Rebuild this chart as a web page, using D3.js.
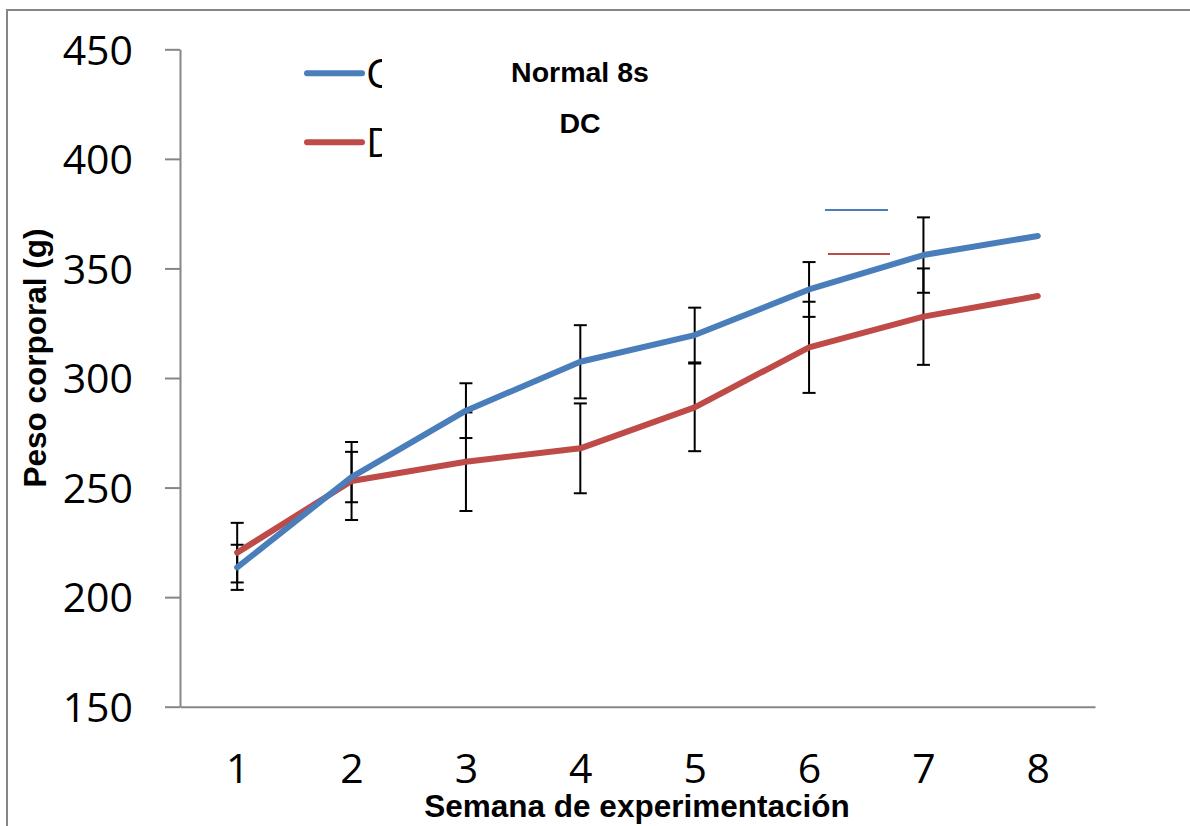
<!DOCTYPE html>
<html>
<head>
<meta charset="utf-8">
<script src="https://cdn.jsdelivr.net/npm/d3@7"></script>
<style>
  html, body { margin: 0; padding: 0; background: #fff; }
  svg { display: block; }
</style>
</head>
<body>
<svg id="chart" width="1190" height="826"></svg>
<script>
// Data
var weeks = [1, 2, 3, 4, 5, 6, 7, 8];
var yTicks = [150, 200, 250, 300, 350, 400, 450];
var controlWeight = [213.6, 254.8, 285.1, 307.4, 319.6, 340.4, 356.1, 364.8];
var controlErr = [10.3, 11.5, 12.5, 16.7, 12.5, 12.5, 17.2, null];
var dcWeight = [220.3, 253.0, 261.8, 267.9, 286.6, 314.0, 328.0, 337.4];
var dcErr = [13.6, 17.8, 22.5, 20.5, 20.0, 20.8, 22.0, null];
var legendNames = ["Control", "DC"];
var titleLines = ["Normal 8s", "DC"];

var blue = "#4A7EBB", red = "#BE4B48", axisGrey = "#868686";
var numFont = "'Open Sans', sans-serif";
var boldFont = "'Liberation Sans', Arial, sans-serif";

var svg = d3.select("#chart");

// outer chart frame (only left and top edges show)
svg.append("rect")
    .attr("x", 7).attr("y", 10)
    .attr("width", 1400).attr("height", 1000)
    .attr("fill", "none")
    .attr("stroke", axisGrey)
    .attr("stroke-width", 2);

var x = d3.scalePoint()
    .domain(weeks)
    .range([180, 1095])
    .padding(0.5);

var y = d3.scaleLinear()
    .domain([150, 450])
    .range([706.7, 49.3]);

// y axis
var yAxis = svg.append("g")
    .attr("transform", "translate(180,0)")
    .call(d3.axisLeft(y).tickValues(yTicks).tickSize(15).tickSizeOuter(0).tickPadding(32));
yAxis.selectAll("path, line").attr("stroke", axisGrey).attr("stroke-width", 2);
yAxis.selectAll("text")
    .attr("font-family", numFont)
    .attr("font-size", 41)
    .attr("fill", "#000")
    .attr("dy", "0.36em");

// x axis
var xAxis = svg.append("g")
    .attr("transform", "translate(0,706.7)")
    .call(d3.axisBottom(x).tickSize(0).tickSizeOuter(0).tickPadding(0));
xAxis.select("path").attr("stroke", axisGrey).attr("stroke-width", 2);
xAxis.selectAll("text")
    .attr("font-family", numFont)
    .attr("font-size", 41)
    .attr("fill", "#000")
    .attr("y", 76)
    .attr("dy", 0);

// axis titles
svg.append("text")
    .attr("x", 637).attr("y", 817)
    .attr("text-anchor", "middle")
    .attr("font-family", boldFont)
    .attr("font-weight", "bold")
    .attr("font-size", 31.5)
    .text("Semana de experimentación");

svg.append("text")
    .attr("transform", "translate(46,358) rotate(-90)")
    .attr("text-anchor", "middle")
    .attr("font-family", boldFont)
    .attr("font-weight", "bold")
    .attr("font-size", 31.5)
    .text("Peso corporal (g)");

// error bars (drawn under the lines)
function errorBars(values, errs) {
    var g = svg.append("g");
    var pts = weeks.map(function(w, i) {
        return { w: w, v: values[i], e: errs[i] };
    }).filter(function(d) { return d.e != null; });

    g.selectAll("line.stem").data(pts).enter().append("line")
        .attr("x1", function(d) { return x(d.w); })
        .attr("x2", function(d) { return x(d.w); })
        .attr("y1", function(d) { return y(d.v + d.e); })
        .attr("y2", function(d) { return y(d.v - d.e); })
        .attr("stroke", "#000").attr("stroke-width", 2);

    [1, -1].forEach(function(sign) {
        g.selectAll(null).data(pts).enter().append("line")
            .attr("x1", function(d) { return x(d.w) - 6.5; })
            .attr("x2", function(d) { return x(d.w) + 6.5; })
            .attr("y1", function(d) { return y(d.v + sign * d.e); })
            .attr("y2", function(d) { return y(d.v + sign * d.e); })
            .attr("stroke", "#000").attr("stroke-width", 2);
    });
}
errorBars(controlWeight, controlErr);
errorBars(dcWeight, dcErr);

// series lines
var line = d3.line()
    .x(function(d, i) { return x(weeks[i]); })
    .y(function(d) { return y(d); });

svg.append("path")
    .datum(dcWeight)
    .attr("d", line)
    .attr("fill", "none")
    .attr("stroke", red)
    .attr("stroke-width", 6)
    .attr("stroke-linejoin", "round")
    .attr("stroke-linecap", "round");

svg.append("path")
    .datum(controlWeight)
    .attr("d", line)
    .attr("fill", "none")
    .attr("stroke", blue)
    .attr("stroke-width", 6)
    .attr("stroke-linejoin", "round")
    .attr("stroke-linecap", "round");

// legend (text is cut off in the original)
svg.append("clipPath").attr("id", "legClip")
    .append("rect").attr("x", 300).attr("y", 40).attr("width", 82).attr("height", 130);

var legend = svg.append("g");
var legendColors = [blue, red];
var legendY = [73.3, 142.3];
legendNames.forEach(function(name, i) {
    legend.append("line")
        .attr("x1", 307).attr("x2", 362)
        .attr("y1", legendY[i]).attr("y2", legendY[i])
        .attr("stroke", legendColors[i])
        .attr("stroke-width", 6)
        .attr("stroke-linecap", "round");
    legend.append("text")
        .attr("x", 366).attr("y", legendY[i])
        .attr("dy", "0.36em")
        .attr("clip-path", "url(#legClip)")
        .attr("font-family", numFont)
        .attr("font-size", 41)
        .text(name);
});

// title lines
titleLines.forEach(function(t, i) {
    svg.append("text")
        .attr("x", 580).attr("y", 82 + i * 50.5)
        .attr("text-anchor", "middle")
        .attr("font-family", boldFont)
        .attr("font-weight", "bold")
        .attr("font-size", 28.5)
        .text(t);
});

// small stray legend keys at right
[[825, 888, 210, blue], [828, 890, 254, red]].forEach(function(k) {
    svg.append("line")
        .attr("x1", k[0]).attr("x2", k[1])
        .attr("y1", k[2]).attr("y2", k[2])
        .attr("stroke", k[3])
        .attr("stroke-width", 2);
});
</script>
</body>
</html>
